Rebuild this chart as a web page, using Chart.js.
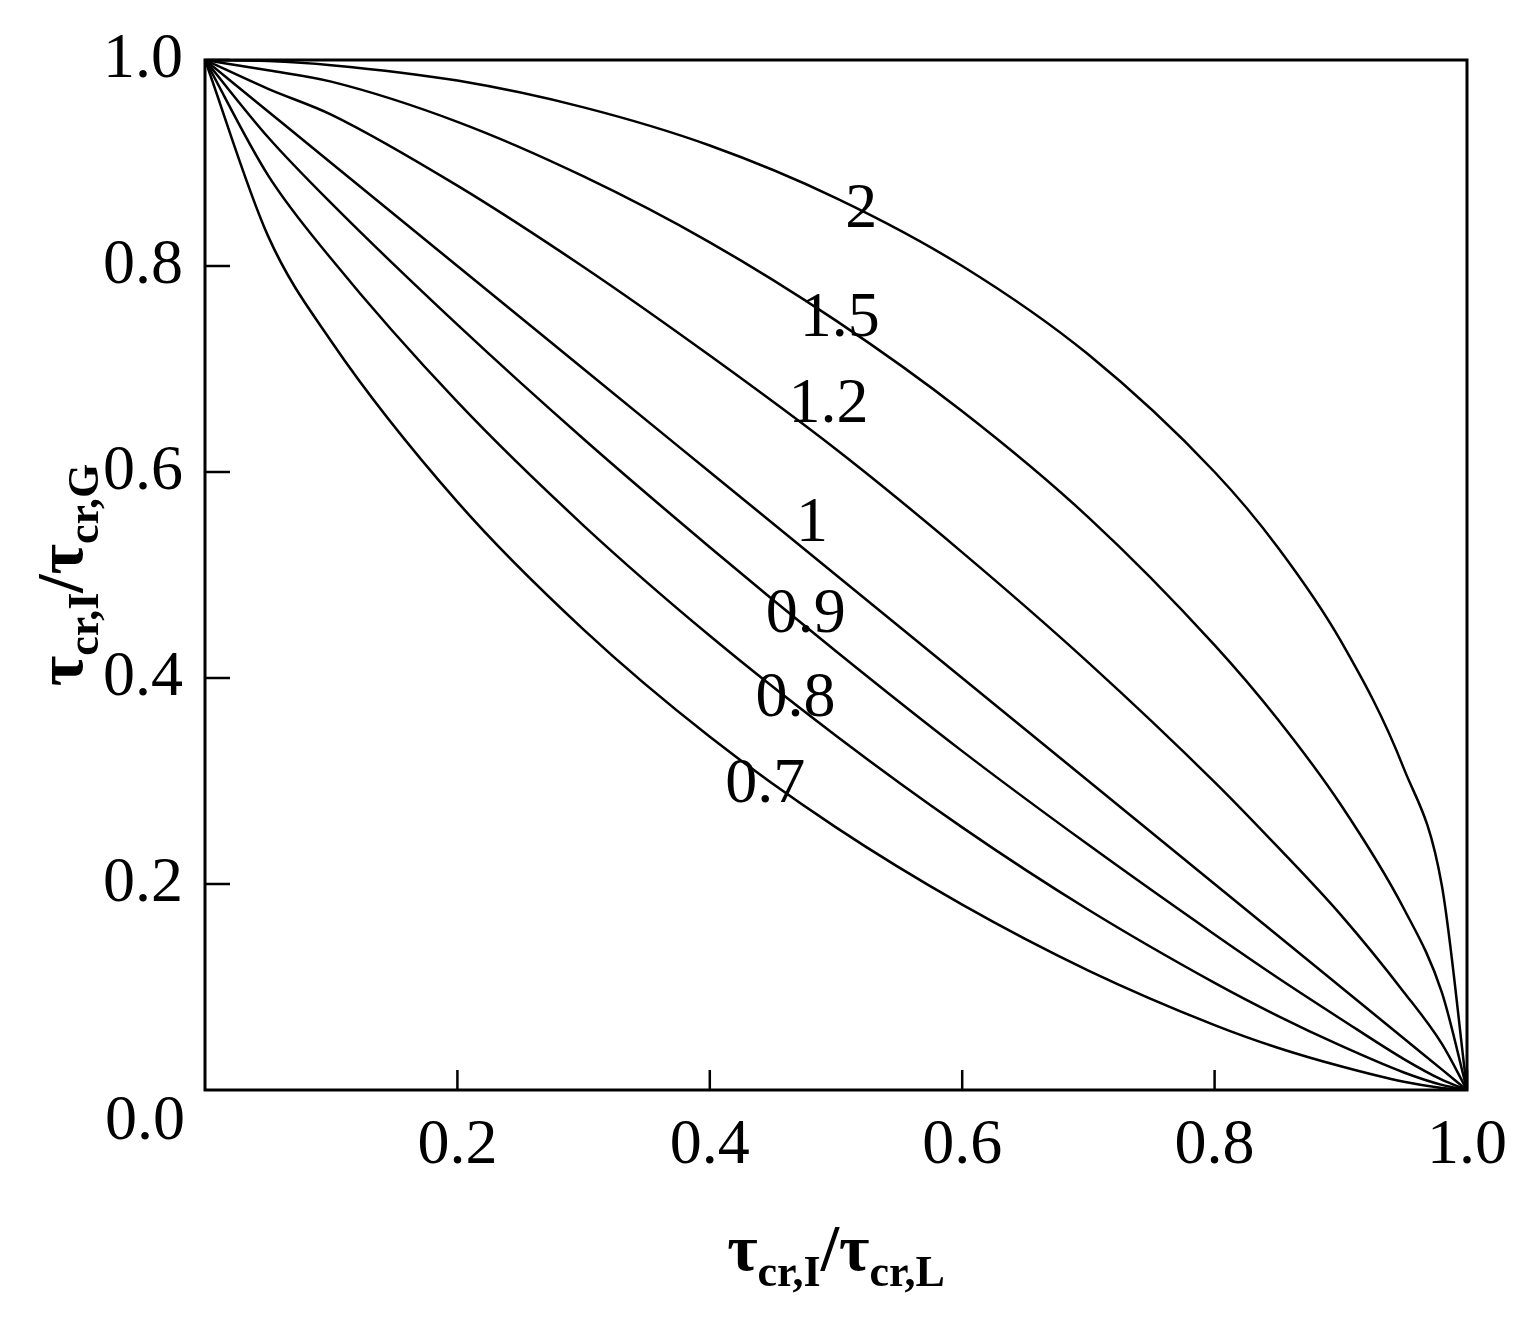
<!DOCTYPE html>
<html lang="en">
<head>
<meta charset="UTF-8">
<title>tau ratio curves</title>
<script src="https://cdn.jsdelivr.net/npm/chart.js@4.4.1/dist/chart.umd.js"></script>
<style>
  body { margin: 0; background: #fff; }
  .wrap { width: 1530px; height: 1317px; }
</style>
</head>
<body>
<div class="wrap"><canvas id="c"></canvas></div>
<script>
// x positions shared by all curves
const xs = [0, 0.05, 0.1, 0.2, 0.3, 0.4, 0.5, 0.6, 0.7, 0.8, 0.85, 0.9, 0.95, 0.98, 1.0];
// one series per curve, named by its exponent label
const y2   = [1, 0.999, 0.995, 0.980, 0.954, 0.917, 0.866, 0.800, 0.714, 0.600, 0.527, 0.436, 0.312, 0.199, 0];
const y15  = [1, 0.990, 0.979, 0.940, 0.887, 0.823, 0.747, 0.659, 0.556, 0.432, 0.360, 0.277, 0.176, 0.095, 0];
const y12  = [1, 0.972, 0.947, 0.878, 0.799, 0.713, 0.622, 0.522, 0.415, 0.299, 0.236, 0.170, 0.095, 0.045, 0];
const y10  = [1, 0.950, 0.900, 0.800, 0.700, 0.600, 0.500, 0.400, 0.300, 0.200, 0.150, 0.100, 0.050, 0.020, 0];
const y09  = [1, 0.925, 0.861, 0.743, 0.632, 0.527, 0.426, 0.329, 0.238, 0.151, 0.109, 0.069, 0.030, 0.010, 0];
const y08  = [1, 0.888, 0.807, 0.668, 0.548, 0.441, 0.344, 0.255, 0.175, 0.104, 0.072, 0.043, 0.017, 0.005, 0];
const y07  = [1, 0.829, 0.727, 0.571, 0.447, 0.343, 0.255, 0.180, 0.116, 0.063, 0.041, 0.023, 0.008, 0.002, 0];
const series = [y2, y15, y12, y10, y09, y08, y07];
const curveLabels = ['2', '1.5', '1.2', '1', '0.9', '0.8', '0.7'];
const labelX = [0.52, 0.503, 0.494, 0.481, 0.476, 0.468, 0.444];
const labelY = [0.854, 0.748, 0.665, 0.549, 0.461, 0.379, 0.296];
const tickVals = [0.2, 0.4, 0.6, 0.8, 1.0];

const serif = '"Liberation Serif", "DejaVu Serif", serif';

const decor = {
  id: 'decor',
  afterDraw(chart) {
    const { ctx, chartArea: a, scales: { x, y } } = chart;
    ctx.save();
    ctx.strokeStyle = '#000';
    ctx.lineWidth = 3;
    ctx.strokeRect(a.left, a.top, a.right - a.left, a.bottom - a.top);
    ctx.lineWidth = 2.5;
    tickVals.forEach(v => {
      const px = x.getPixelForValue(v), py = y.getPixelForValue(v);
      ctx.beginPath(); ctx.moveTo(px, a.bottom); ctx.lineTo(px, a.bottom - 20); ctx.stroke();
      ctx.beginPath(); ctx.moveTo(a.left, py); ctx.lineTo(a.left + 25, py); ctx.stroke();
    });
    ctx.fillStyle = '#000';
    ctx.font = '64px ' + serif;
    ctx.textAlign = 'center';
    ctx.textBaseline = 'middle';
    curveLabels.forEach((t, i) => {
      ctx.fillText(t, x.getPixelForValue(labelX[i]), y.getPixelForValue(labelY[i]));
    });
    ctx.textAlign = 'right';
    ctx.fillText('0.0', a.left - 20, a.bottom + 32);

    // axis titles with subscripts
    function title(cx, cy, sub1, sub2) {
      const big = 'bold 66px ' + serif, small = 'bold 44px ' + serif;
      const parts = [['τ', big, 0], [sub1, small, 16], ['/τ', big, 0], [sub2, small, 16]];
      let w = 0;
      parts.forEach(p => { ctx.font = p[1]; w += ctx.measureText(p[0]).width; });
      let cur = cx - w / 2;
      ctx.textAlign = 'left';
      ctx.textBaseline = 'alphabetic';
      parts.forEach(p => { ctx.font = p[1]; ctx.fillText(p[0], cur, cy + p[2]); cur += ctx.measureText(p[0]).width; });
    }
    title((a.left + a.right) / 2, 1270, 'cr,I', 'cr,L');
    ctx.save();
    ctx.translate(82, (a.top + a.bottom) / 2);
    ctx.rotate(-Math.PI / 2);
    title(0, 0, 'cr,I', 'cr,G');
    ctx.restore();
    ctx.restore();
  }
};

new Chart(document.getElementById('c'), {
  type: 'line',
  data: {
    datasets: series.map((s, i) => ({
      label: curveLabels[i],
      data: xs.map((v, j) => ({ x: v, y: s[j] })),
      borderColor: '#000',
      borderWidth: 2.5,
      pointRadius: 0,
      cubicInterpolationMode: 'monotone',
      fill: false
    }))
  },
  options: {
    responsive: true,
    maintainAspectRatio: false,
    animation: false,
    layout: { padding: { top: 60, right: 63, left: 0, bottom: 0 } },
    plugins: { legend: { display: false }, tooltip: { enabled: false } },
    scales: {
      x: {
        type: 'linear', min: 0, max: 1,
        afterFit: s => { s.height = 227; },
        grid: { display: false }, border: { display: false },
        afterBuildTicks: s => { s.ticks = tickVals.map(v => ({ value: v })); },
        ticks: { color: '#000', font: { family: serif, size: 64 }, padding: 10, maxRotation: 0,
                 callback: v => v.toFixed(1) }
      },
      y: {
        type: 'linear', min: 0, max: 1,
        afterFit: s => { s.width = 205; },
        grid: { display: false }, border: { display: false },
        afterBuildTicks: s => { s.ticks = tickVals.map(v => ({ value: v })); },
        ticks: { color: '#000', font: { family: serif, size: 64 }, padding: 14,
                 callback: v => v.toFixed(1) }
      }
    }
  },
  plugins: [decor]
});
</script>
</body>
</html>
